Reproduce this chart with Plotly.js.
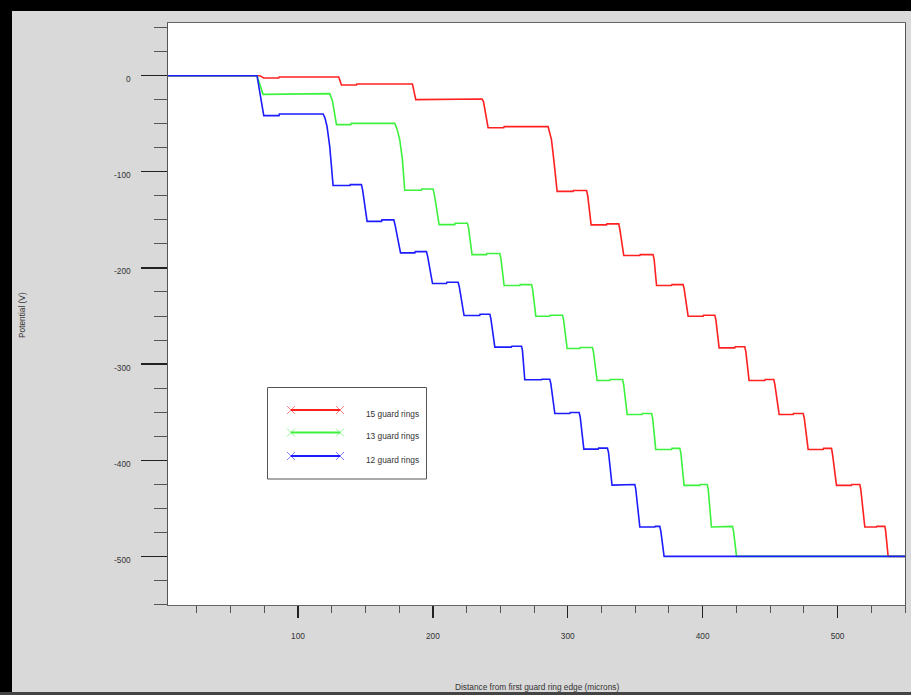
<!DOCTYPE html>
<html><head><meta charset="utf-8">
<script src="https://cdn.plot.ly/plotly-3.0.1.min.js"></script>
<style>
html,body{margin:0;padding:0;background:#d9d9d9;}
#wrap{position:relative;width:911px;height:695px;overflow:hidden;background:#d9d9d9;}
#chart{position:absolute;left:0;top:0;width:911px;height:695px;}
.bar{position:absolute;}
</style></head>
<body><div id="wrap"><div id="chart"></div>
<div class="bar" style="left:0;top:0;width:911px;height:11px;background:#000"></div>
<div class="bar" style="left:0;top:0;width:12px;height:695px;background:#000"></div>
<div class="bar" style="left:0;top:692px;width:911px;height:3px;background:#444"></div>
</div>
<script>
// ---- data ----
const seriesNames = ['15 guard rings', '13 guard rings', '12 guard rings'];
const seriesColors = ['#ff2020', '#3cf23c', '#1c1cff'];

const redX = [0,71.6,74.6,85.7,86.0,130.2,132.2,143.3,143.6,184.8,187.3,199.7,200.0,236.4,237.5,240.9,252.5,252.8,285.4,287.9,289.6,292.1,303.9,304.2,313.9,314.8,317.3,328.7,329.0,337.8,338.6,341.5,353.4,353.7,363.2,364.0,365.8,376.9,377.2,385.5,386.3,389.2,400.3,400.6,409.0,409.8,412.2,423.8,424.1,431.2,432.0,434.4,446.1,446.4,452.7,453.5,456.7,467.0,467.3,474.5,475.3,478.2,489.3,489.6,495.5,496.2,499.2,510.3,510.6,516.5,517.2,520.2,528.9,529.2,535.0,535.6,537.5,550];
const redY = [0,0,-2.4,-2.4,-1.4,-1.4,-9.7,-9.7,-8.6,-8.6,-24.9,-24.9,-24.2,-24.2,-27,-54.1,-54.1,-53.0,-53.0,-66.5,-87.3,-120.3,-120.3,-119.5,-119.5,-125,-155.2,-155.2,-154.2,-154.2,-160,-187.1,-187.1,-186.1,-186.1,-191,-218.3,-218.3,-217.3,-217.3,-222,-250.2,-250.2,-249.2,-249.2,-254,-283.1,-283.1,-282.0,-282.0,-287,-317.0,-317.0,-316.0,-316.0,-321,-352.4,-352.4,-351.4,-351.4,-356,-388.8,-388.8,-387.7,-387.7,-393,-426.2,-426.2,-425.2,-425.2,-430,-469.5,-469.5,-468.8,-468.8,-473,-500,-500];

const greenX = [0,69.6,74.1,85.9,86.2,123.5,125.5,128.5,139.2,139.5,171.7,173.5,175.4,177.4,179.1,191.5,191.8,200.1,201.0,204.6,216.2,216.5,225.6,226.4,229.0,239.7,240.0,249.6,250.4,252.8,264.4,264.7,273.1,273.9,276.3,286.6,286.9,296.1,296.9,299.5,308.9,309.2,318.3,319.1,321.7,331.1,331.4,340.6,341.4,344.0,355.0,355.3,362.1,362.9,365.2,376.9,377.2,383.0,383.8,386.2,397.9,398.2,403.3,404.1,406.5,417.7,418.0,422.1,422.9,425.1,550];
const greenY = [0,0,-19.4,-19.4,-18.7,-18.7,-26,-50.9,-50.9,-49.6,-49.6,-56,-66.5,-87.3,-119.2,-119.2,-117.8,-117.8,-123,-154.9,-154.9,-153.5,-153.5,-158,-186.1,-186.1,-185.0,-185.0,-190,-218.3,-218.3,-217.3,-217.3,-222,-250.2,-250.2,-249.2,-249.2,-254,-283.8,-283.8,-282.7,-282.7,-288,-317.0,-317.0,-316.0,-316.0,-321,-352.4,-352.4,-351.4,-351.4,-356,-388.8,-388.8,-387.7,-387.7,-392,-426.2,-426.2,-425.2,-425.2,-430,-469.5,-469.5,-468.8,-468.8,-474,-500,-500];

const blueX = [0,69.6,74.6,85.9,86.2,118.6,120.0,121.5,123.5,124.8,126.0,138.4,138.7,147.0,147.9,151.2,161.9,162.2,171.0,171.9,176.0,186.6,186.9,195.2,196.1,199.7,210.1,210.4,218.7,219.6,223.1,234.7,235.0,242.2,243.0,245.9,258.2,258.5,265.7,266.4,268.1,280.5,280.8,286.6,287.4,290.4,301.5,301.8,308.4,309.2,311.9,322.5,322.8,329.4,330.2,332.8,343.5,343.8,349.7,350.4,353.4,364.5,364.8,368.2,369.0,371.4,550];
const blueY = [0,0,-41.6,-41.6,-39.8,-39.8,-44,-52.7,-73.5,-97.7,-114.3,-114.3,-113.3,-113.3,-119,-151.5,-151.5,-150.0,-150.0,-155,-184.3,-184.3,-183.0,-183.0,-188,-216.2,-216.2,-214.9,-214.9,-220,-249.5,-249.5,-248.1,-248.1,-253,-282.4,-282.4,-281.4,-281.4,-286,-316.3,-316.3,-315.7,-315.7,-320,-351.4,-351.4,-350.3,-350.3,-355,-388.5,-388.5,-387.4,-387.4,-392,-425.9,-425.9,-425.2,-425.2,-430,-469.5,-469.5,-468.8,-468.8,-474,-500,-500];

const xTickVals = [100, 200, 300, 400, 500];
const xTickText = ['100', '200', '300', '400', '500'];
const yTickVals = [0, -100, -200, -300, -400, -500];
const yTickText = ['0', '-100', '-200', '-300', '-400', '-500'];

const xTitle = 'Distance from first guard ring edge (microns)';
const yTitle = 'Potential (V)';

// ---- layout helpers (pixel -> paper) ----
const W = 911, H = 695, ML = 168, MR = 6, MT = 23, MB = 90;
const PW = W - ML - MR, PH = H - MT - MB;
const px = x => (x - ML) / PW;
const py = y => (H - MB - y) / PH;

const xs = [redX, greenX, blueX];
const ys = [redY, greenY, blueY];
const traces = xs.map((x, i) => ({
  type: 'scatter', mode: 'lines', x: x, y: ys[i],
  line: {color: seriesColors[i], width: 1.6},
  hoverinfo: 'skip', showlegend: false
}));

const font = {family: '"Liberation Sans", Arial, sans-serif', size: 8.3, color: '#333'};
const shapes = [];
const annotations = [];

// custom legend
shapes.push({type: 'rect', xref: 'paper', yref: 'paper', x0: px(267.5), x1: px(426.5), y0: py(479), y1: py(387.5),
  line: {color: '#555', width: 1}, fillcolor: 'rgba(255,255,255,0)'});
const legRowsLine = [410, 432.5, 456];
const legRowsText = [413.5, 436.5, 460];
seriesNames.forEach((name, i) => {
  const yl = legRowsLine[i];
  shapes.push({type: 'line', xref: 'paper', yref: 'paper', x0: px(291), x1: px(340), y0: py(yl), y1: py(yl),
    line: {color: seriesColors[i], width: 2}});
  [291, 340].forEach(cx => {
    shapes.push({type: 'line', xref: 'paper', yref: 'paper', x0: px(cx - 4), x1: px(cx + 4), y0: py(yl - 4), y1: py(yl + 4),
      line: {color: seriesColors[i], width: 0.8}, opacity: 0.7});
    shapes.push({type: 'line', xref: 'paper', yref: 'paper', x0: px(cx - 4), x1: px(cx + 4), y0: py(yl + 4), y1: py(yl - 4),
      line: {color: seriesColors[i], width: 0.8}, opacity: 0.7});
  });
  annotations.push({xref: 'paper', yref: 'paper', x: px(364), y: py(legRowsText[i]), xanchor: 'left', yanchor: 'middle',
    text: name, showarrow: false, font: font});
});

// y tick labels (drawn slightly below their ticks, as in the reference)
yTickVals.forEach((v, i) => {
  annotations.push({xref: 'paper', yref: 'y', x: px(133), y: v, yshift: -3.5, xanchor: 'right', yanchor: 'middle',
    text: yTickText[i], showarrow: false, font: font});
});

// axis titles
annotations.push({xref: 'paper', yref: 'paper', x: px(536.5), y: py(686.5), xanchor: 'center', yanchor: 'middle',
  text: xTitle, showarrow: false, font: font});
annotations.push({xref: 'paper', yref: 'paper', x: px(22), y: py(315), xanchor: 'center', yanchor: 'middle',
  text: yTitle, textangle: -90, showarrow: false, font: font});

const layout = {
  width: W, height: H,
  margin: {l: ML, r: MR, t: MT, b: MB, pad: 0},
  paper_bgcolor: '#d9d9d9', plot_bgcolor: '#ffffff',
  font: font, showlegend: false,
  xaxis: {
    range: [3.6, 550], tickmode: 'array', tickvals: xTickVals, ticktext: xTickText,
    ticks: 'outside', ticklen: 12, tickwidth: 1.2, tickcolor: '#222',
    ticklabelstandoff: 11,
    showline: true, linecolor: '#666', linewidth: 1, mirror: true,
    showgrid: false, zeroline: false, fixedrange: true,
    minor: {tick0: 0, dtick: 25, ticks: 'outside', ticklen: 7, tickwidth: 1, tickcolor: '#555', showgrid: false}
  },
  yaxis: {
    range: [-550.6, 54.8], tickmode: 'array', tickvals: yTickVals, ticktext: yTickText,
    showticklabels: false,
    ticks: 'outside', ticklen: 26, tickwidth: 1.2, tickcolor: '#222',
    showline: true, linecolor: '#555', linewidth: 1, mirror: true,
    showgrid: false, zeroline: false, fixedrange: true,
    minor: {tick0: 0, dtick: 25, ticks: 'outside', ticklen: 13, tickwidth: 1, tickcolor: '#555', showgrid: false}
  },
  shapes: shapes,
  annotations: annotations
};

Plotly.newPlot('chart', traces, layout, {displayModeBar: false, staticPlot: true});
</script>
</body></html>
